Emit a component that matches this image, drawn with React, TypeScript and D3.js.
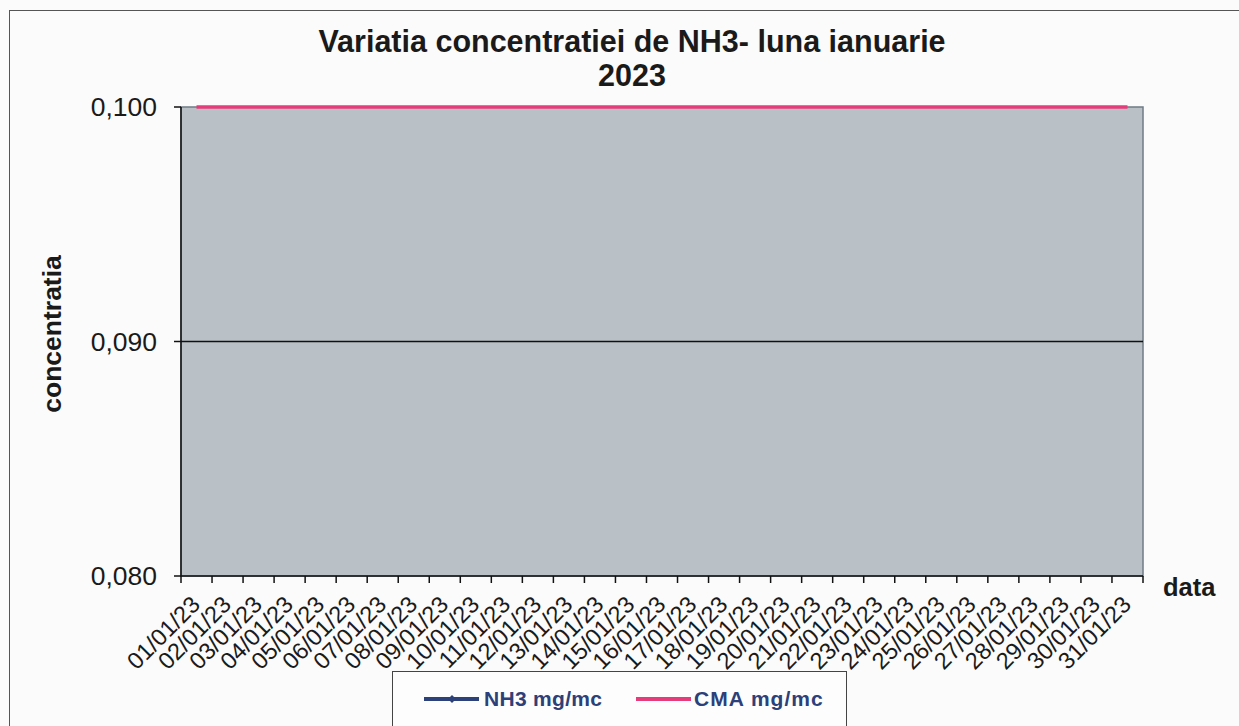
import React from "react";
import * as d3 from "d3";

const days = [
  "01/01/23", "02/01/23", "03/01/23", "04/01/23", "05/01/23", "06/01/23", "07/01/23", "08/01/23",
  "09/01/23", "10/01/23", "11/01/23", "12/01/23", "13/01/23", "14/01/23", "15/01/23", "16/01/23",
  "17/01/23", "18/01/23", "19/01/23", "20/01/23", "21/01/23", "22/01/23", "23/01/23", "24/01/23",
  "25/01/23", "26/01/23", "27/01/23", "28/01/23", "29/01/23", "30/01/23", "31/01/23",
];

// NH3 values do not show in the plot (nothing measured inside the axis range)
const nh3: (number | null)[] = [
  null, null, null, null, null, null, null, null, null, null, null, null, null, null, null, null,
  null, null, null, null, null, null, null, null, null, null, null, null, null, null, null,
];

const cma = [
  0.1, 0.1, 0.1, 0.1, 0.1, 0.1, 0.1, 0.1, 0.1, 0.1, 0.1, 0.1, 0.1, 0.1, 0.1, 0.1,
  0.1, 0.1, 0.1, 0.1, 0.1, 0.1, 0.1, 0.1, 0.1, 0.1, 0.1, 0.1, 0.1, 0.1, 0.1,
];

const yTicks = [0.08, 0.09, 0.1];

const W = 1239;
const H = 726;
const left = 181, right = 1143, top = 107, bottom = 576;
const font = "'Liberation Sans', Arial, sans-serif";
const pink = "#e63c7c";
const navy = "#2c4079";

export default function App() {
  const x = d3.scaleBand<string>().domain(days).range([left, right]).padding(0);
  const y = d3.scaleLinear().domain([0.08, 0.1]).range([bottom, top]);
  const cx = (d: string) => (x(d) as number) + x.bandwidth() / 2;

  const line = d3
    .line<number | null>()
    .defined((v) => v != null)
    .x((_, i) => cx(days[i]))
    .y((v) => y(v as number));

  const fmt = (v: number) => v.toFixed(3).replace(".", ",");

  return (
    <svg width={W} height={H} style={{ position: "absolute", left: 0, top: 0, background: "#fbfbfb" }}>
      <rect x={9.5} y={10.5} width={1240} height={730} fill="none" stroke="#555" strokeWidth={1} />

      <text x={632} y={52} textAnchor="middle" fontFamily={font} fontWeight="bold" fontSize={30.5} fill="#1a1a1a">
        Variatia concentratiei de NH3- luna ianuarie
      </text>
      <text x={632} y={86} textAnchor="middle" fontFamily={font} fontWeight="bold" fontSize={30.5} fill="#1a1a1a">
        2023
      </text>

      <rect x={left} y={top} width={right - left} height={bottom - top} fill="#bac1c6" stroke="#6f7b84" strokeWidth={1.5} />

      {yTicks.slice(1, -1).map((t) => (
        <line key={t} x1={left} x2={right} y1={y(t)} y2={y(t)} stroke="#111" strokeWidth={1.5} />
      ))}

      <line x1={left} x2={left} y1={top} y2={bottom} stroke="#111" strokeWidth={1.5} />
      <line x1={left} x2={right} y1={bottom} y2={bottom} stroke="#111" strokeWidth={1.5} />

      {yTicks.map((t) => (
        <g key={t}>
          <line x1={left - 7} x2={left} y1={y(t)} y2={y(t)} stroke="#111" strokeWidth={1.5} />
          <text x={157} y={y(t) + 9} textAnchor="end" fontFamily={font} fontSize={26.5} fill="#1a1a1a">
            {fmt(t)}
          </text>
        </g>
      ))}

      {[...days, null].map((d, i) => {
        const px = d ? (x(d) as number) : right;
        return <line key={i} x1={px} x2={px} y1={bottom} y2={bottom + 7} stroke="#111" strokeWidth={1.5} />;
      })}

      {days.map((d) => (
        <text
          key={d}
          transform={`translate(${cx(d) + 5},${bottom + 30}) rotate(-45)`}
          textAnchor="end"
          fontFamily={font}
          fontSize={23.5}
          fill="#1a1a1a"
        >
          {d}
        </text>
      ))}

      <path d={line(nh3) || ""} fill="none" stroke={navy} strokeWidth={3} />
      <path d={line(cma) || ""} fill="none" stroke={pink} strokeWidth={3.5} />

      <text x={1163} y={596} fontFamily={font} fontWeight="bold" fontSize={25.5} fill="#1a1a1a">
        data
      </text>
      <text
        transform="translate(61,334) rotate(-90)"
        textAnchor="middle"
        fontFamily={font}
        fontWeight="bold"
        fontSize={26.5}
        fill="#1a1a1a"
      >
        concentratia
      </text>

      <g>
        <rect x={392.5} y={671.5} width={454} height={80} fill="#fdfdfd" stroke="#444" strokeWidth={1} />
        <line x1={424} x2={479} y1={699} y2={699} stroke={navy} strokeWidth={4} />
        <path d="M452,695 L456,699 L452,703 L448,699 Z" fill={navy} />
        <text x={484} y={706} fontFamily={font} fontWeight="bold" fontSize={21} fill={navy} letterSpacing={0.3}>
          NH3 mg/mc
        </text>
        <line x1={636} x2={691} y1={699} y2={699} stroke={pink} strokeWidth={4} />
        <text x={694} y={706} fontFamily={font} fontWeight="bold" fontSize={21} fill={navy} letterSpacing={1}>
          CMA mg/mc
        </text>
      </g>
    </svg>
  );
}
